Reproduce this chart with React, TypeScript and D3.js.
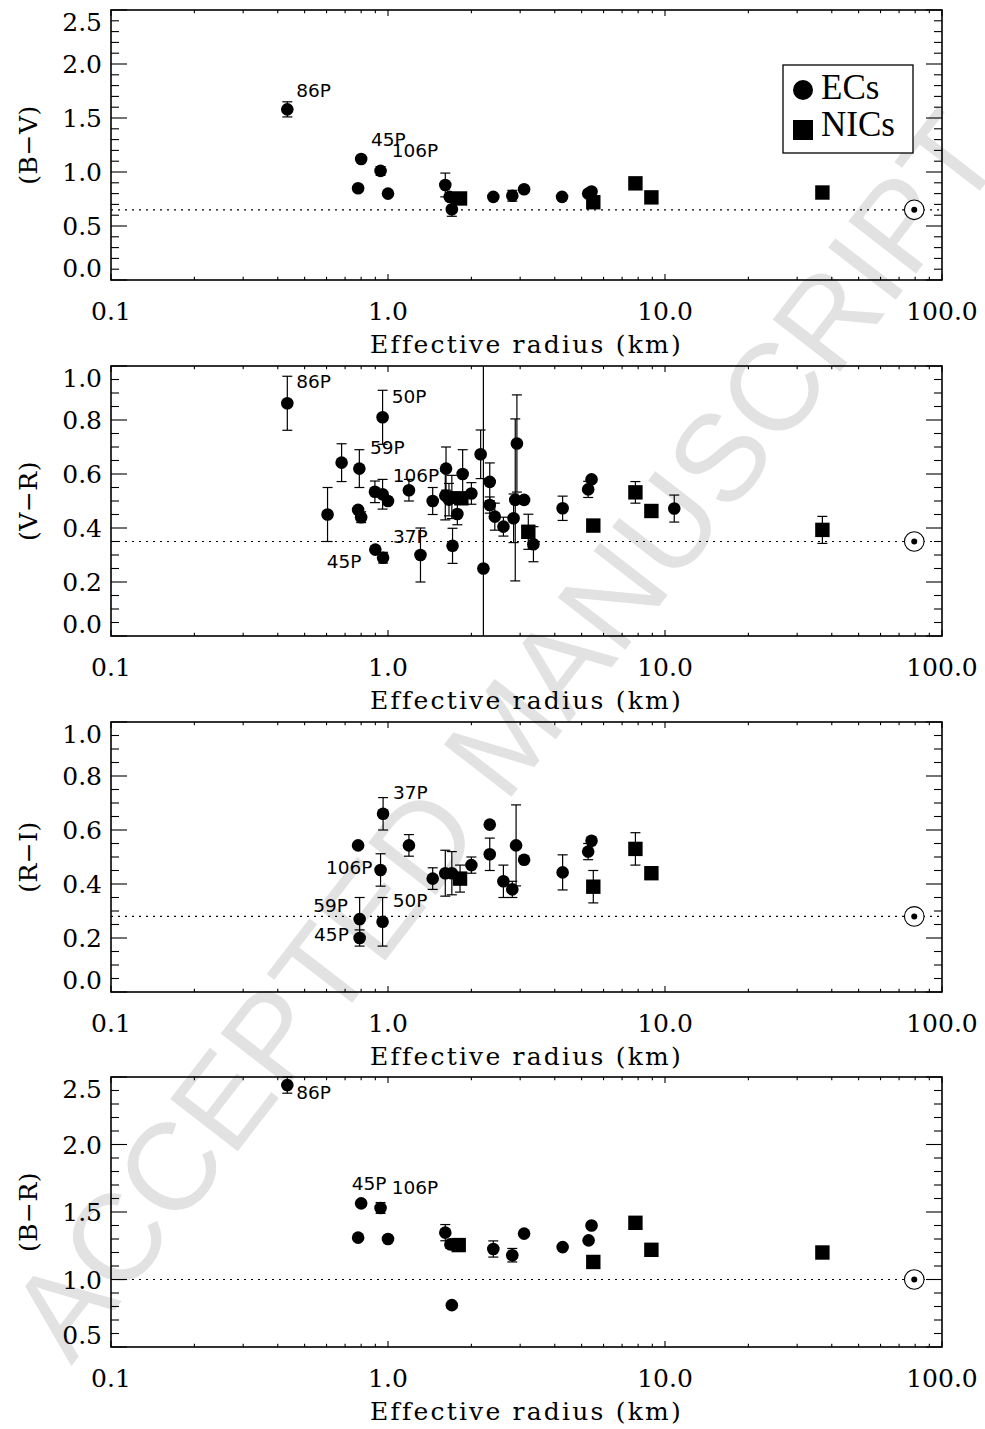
import React from 'react';
import * as d3 from 'd3';

type Pt = [number, number, number]; // [effective radius km, colour, error]
type Lbl = [string, number, number]; // [text, radius at text start, colour at baseline]

const xTickValues = [0.1, 1, 10, 100];
const xTickLabels = ['0.1', '1.0', '10.0', '100.0'];
const sunRadius = 79.4;

// ---- (B-V) ----
const bvTickLabels = ['0.0', '0.5', '1.0', '1.5', '2.0', '2.5'];
const bvECs: Pt[] = [
  [0.433, 1.58, 0.07], [0.80, 1.12, 0], [0.78, 0.85, 0], [0.94, 1.01, 0.04], [1.0, 0.80, 0],
  [1.61, 0.88, 0.11], [1.67, 0.77, 0], [1.70, 0.655, 0.065], [2.40, 0.77, 0], [2.81, 0.78, 0.05],
  [3.10, 0.84, 0], [4.25, 0.77, 0], [5.28, 0.80, 0], [5.43, 0.82, 0],
];
const bvNICs: Pt[] = [
  [1.82, 0.755, 0], [5.51, 0.72, 0], [7.82, 0.895, 0], [8.93, 0.765, 0], [37.0, 0.81, 0],
];
const bvSun = 0.65;
const bvLabels: Lbl[] = [['86P', 0.466, 1.694], ['45P', 0.868, 1.243], ['106P', 1.031, 1.142]];

// ---- (V-R) ----
const vrTickLabels = ['0.0', '0.2', '0.4', '0.6', '0.8', '1.0'];
const vrECs: Pt[] = [
  [0.433, 0.862, 0.10], [0.956, 0.81, 0.10], [0.605, 0.45, 0.10], [0.68, 0.642, 0.07],
  [0.788, 0.62, 0.07], [0.78, 0.467, 0], [0.80, 0.44, 0.02], [0.897, 0.534, 0.04],
  [0.956, 0.525, 0.055], [1.0, 0.50, 0], [0.90, 0.32, 0], [0.96, 0.29, 0.02],
  [1.19, 0.54, 0.04], [1.31, 0.30, 0.10], [1.45, 0.50, 0.05], [1.62, 0.62, 0.08],
  [1.61, 0.52, 0.09], [1.66, 0.505, 0.06], [1.70, 0.515, 0.08], [1.78, 0.452, 0.04],
  [1.71, 0.334, 0.065], [1.86, 0.60, 0.09], [2.0, 0.528, 0.04], [2.16, 0.673, 0.09],
  [2.21, 0.25, 1.0], [2.33, 0.571, 0.07], [2.33, 0.485, 0.03], [2.43, 0.442, 0.05],
  [2.61, 0.405, 0.035], [2.84, 0.436, 0.09], [2.92, 0.713, 0.18], [2.88, 0.504, 0.30],
  [3.10, 0.504, 0], [3.35, 0.34, 0.065], [4.27, 0.473, 0.045], [5.28, 0.543, 0.03],
  [5.43, 0.58, 0], [10.8, 0.472, 0.05],
];
const vrNICs: Pt[] = [
  [1.84, 0.51, 0], [3.21, 0.386, 0.065], [5.51, 0.409, 0.02], [7.82, 0.532, 0.04],
  [8.93, 0.463, 0], [37.0, 0.393, 0.05],
];
const vrSun = 0.35;
const vrLabels: Lbl[] = [
  ['86P', 0.466, 0.917], ['50P', 1.031, 0.862], ['59P', 0.861, 0.673],
  ['106P', 1.04, 0.571], ['37P', 1.043, 0.343], ['45P', 0.601, 0.251],
];

// ---- (R-I) ----
const riTickLabels = ['0.0', '0.2', '0.4', '0.6', '0.8', '1.0'];
const riECs: Pt[] = [
  [0.78, 0.543, 0], [0.96, 0.66, 0.06], [1.19, 0.543, 0.04], [0.94, 0.452, 0.06],
  [0.79, 0.27, 0.08], [0.79, 0.20, 0.03], [0.956, 0.26, 0.09], [1.45, 0.42, 0.04],
  [1.61, 0.44, 0.085], [1.70, 0.44, 0.08], [2.0, 0.47, 0.03], [2.33, 0.62, 0],
  [2.33, 0.51, 0.06], [2.61, 0.41, 0.06], [2.81, 0.38, 0.03], [2.90, 0.543, 0.15],
  [3.10, 0.49, 0], [4.27, 0.443, 0.065], [5.28, 0.52, 0.03], [5.43, 0.56, 0],
];
const riNICs: Pt[] = [
  [1.82, 0.42, 0.05], [5.51, 0.39, 0.06], [7.82, 0.53, 0.06], [8.93, 0.44, 0.02],
];
const riSun = 0.28;
const riLabels: Lbl[] = [
  ['37P', 1.043, 0.713], ['106P', 0.597, 0.438], ['59P', 0.537, 0.295],
  ['50P', 1.04, 0.313], ['45P', 0.541, 0.19],
];

// ---- (B-R) ----
const brTickLabels = ['0.5', '1.0', '1.5', '2.0', '2.5'];
const brECs: Pt[] = [
  [0.433, 2.44, 0.06], [0.80, 1.564, 0], [0.78, 1.31, 0], [0.94, 1.53, 0.04], [1.0, 1.30, 0],
  [1.61, 1.347, 0.06], [1.68, 1.26, 0.03], [1.70, 0.81, 0], [2.40, 1.226, 0.06],
  [2.81, 1.18, 0.05], [3.10, 1.34, 0], [4.27, 1.24, 0], [5.30, 1.29, 0], [5.43, 1.40, 0],
];
const brNICs: Pt[] = [
  [1.80, 1.255, 0], [5.51, 1.13, 0], [7.82, 1.42, 0], [8.93, 1.22, 0], [37.0, 1.20, 0],
];
const brSun = 1.0;
const brLabels: Lbl[] = [['86P', 0.466, 2.335], ['45P', 0.74, 1.663], ['106P', 1.031, 1.631]];

const legendItems = ['ECs', 'NICs'];
const xTitle = 'Effective radius (km)';
const watermark = 'ACCEPTED MANUSCRIPT';

const panels = [
  { title: '(B−V)', tickLabels: bvTickLabels, minor: 0.1, ecs: bvECs, nics: bvNICs, sun: bvSun, labels: bvLabels, legend: true },
  { title: '(V−R)', tickLabels: vrTickLabels, minor: 0.05, ecs: vrECs, nics: vrNICs, sun: vrSun, labels: vrLabels, legend: false },
  { title: '(R−I)', tickLabels: riTickLabels, minor: 0.05, ecs: riECs, nics: riNICs, sun: riSun, labels: riLabels, legend: false },
  { title: '(B−R)', tickLabels: brTickLabels, minor: 0.1, ecs: brECs, nics: brNICs, sun: brSun, labels: brLabels, legend: false },
];

const W = 985;
const H = 1429;
const L = 111;
const R = 942;
const tops = [10, 366, 722, 1077];
const PH = 270;
const serif = '"DejaVu Serif", serif';
const sans = '"DejaVu Sans", sans-serif';

const x = d3.scaleLog().domain([0.1, 100]).range([L, R]);

function Panel({ p, top }: { p: typeof panels[number]; top: number }) {
  const bottom = top + PH;
  const tickVals = p.tickLabels.map(Number);
  const lo = tickVals[0];
  const hi = tickVals[tickVals.length - 1];
  const y = d3.scaleLinear().domain([lo, hi]).range([bottom, top]);
  const nMinor = Math.round((hi - lo) / p.minor);
  const minorVals = d3.range(nMinor + 1).map((i) => lo + i * p.minor);
  const xMinor: number[] = [];
  [0.1, 1, 10].forEach((d) => { for (let k = 2; k <= 9; k++) xMinor.push(d * k); });
  const clampY = (v: number) => Math.max(lo, Math.min(hi, v));
  const errBar = (pt: Pt, i: number) => {
    if (!pt[2]) return null;
    const cx = x(pt[0]);
    const v1 = pt[1] + pt[2];
    const v0 = pt[1] - pt[2];
    const y1 = y(clampY(v1));
    const y0 = y(clampY(v0));
    return (
      <g key={'e' + i} stroke="#000" strokeWidth={1.2}>
        <line x1={cx} x2={cx} y1={y1} y2={y0} />
        {v1 <= hi && <line x1={cx - 5} x2={cx + 5} y1={y1} y2={y1} />}
        {v0 >= lo && <line x1={cx - 5} x2={cx + 5} y1={y0} y2={y0} />}
      </g>
    );
  };
  const sx = x(sunRadius);
  const sy = y(p.sun);
  return (
    <g>
      {/* dotted solar colour line */}
      <line x1={L} x2={R} y1={sy} y2={sy} stroke="#000" strokeWidth={1.2} strokeDasharray="2,5" />
      {/* error bars */}
      {p.ecs.map(errBar)}
      {p.nics.map((d, i) => errBar(d, 100 + i))}
      {/* markers */}
      {p.ecs.map((d, i) => (
        <circle key={'c' + i} cx={x(d[0])} cy={y(d[1])} r={6.3} fill="#000" />
      ))}
      {p.nics.map((d, i) => (
        <rect key={'s' + i} x={x(d[0]) - 7.2} y={y(d[1]) - 7.2} width={14.4} height={14.4} fill="#000" />
      ))}
      {/* sun */}
      <circle cx={sx} cy={sy} r={9.8} fill="#fff" stroke="#000" strokeWidth={1.1} />
      <circle cx={sx} cy={sy} r={3} fill="#000" />
      {/* comet labels */}
      {p.labels.map((l, i) => (
        <text key={'l' + i} x={x(l[1])} y={y(l[2])} fontFamily={sans} fontSize={18.5} fill="#000">{l[0]}</text>
      ))}
      {/* frame */}
      <rect x={L} y={top} width={R - L} height={PH} fill="none" stroke="#000" strokeWidth={1.6} />
      {/* y ticks */}
      {minorVals.map((v, i) => {
        const isMajor = tickVals.some((t) => Math.abs(t - v) < 1e-6);
        const len = isMajor ? 16 : 8;
        const yy = y(v);
        return (
          <g key={'yt' + i} stroke="#000" strokeWidth={1.1}>
            <line x1={L} x2={L + len} y1={yy} y2={yy} />
            <line x1={R} x2={R - len} y1={yy} y2={yy} />
          </g>
        );
      })}
      {/* x ticks */}
      {xTickValues.map((v, i) => (
        <g key={'xt' + i} stroke="#000" strokeWidth={1.1}>
          <line x1={x(v)} x2={x(v)} y1={bottom} y2={bottom - 6} />
          <line x1={x(v)} x2={x(v)} y1={top} y2={top + 6} />
        </g>
      ))}
      {xMinor.map((v, i) => (
        <g key={'xm' + i} stroke="#000" strokeWidth={1.1}>
          <line x1={x(v)} x2={x(v)} y1={bottom} y2={bottom - 3.2} />
          <line x1={x(v)} x2={x(v)} y1={top} y2={top + 3.2} />
        </g>
      ))}
      {/* y tick labels */}
      {p.tickLabels.map((t, i) => {
        const yy = Math.max(top + 12, Math.min(bottom - 12, y(tickVals[i])));
        return (
          <text key={'yl' + i} x={102} y={yy} dy="0.36em" textAnchor="end" fontFamily={serif} fontSize={25} fill="#000">{t}</text>
        );
      })}
      {/* x tick labels */}
      {xTickLabels.map((t, i) => (
        <text key={'xl' + i} x={x(xTickValues[i])} y={bottom + 40} textAnchor="middle" fontFamily={serif} fontSize={25} fill="#000">{t}</text>
      ))}
      {/* titles */}
      <text x={(L + R) / 2} y={bottom + 73} textAnchor="middle" fontFamily={serif} fontSize={25} letterSpacing={2.2} fill="#000">{xTitle}</text>
      <text transform={`translate(37,${top + PH / 2}) rotate(-90)`} textAnchor="middle" fontFamily={serif} fontSize={25} letterSpacing={0.5} fill="#000">{p.title}</text>
      {p.legend && (
        <g>
          <rect x={783} y={top + 55} width={130} height={88} fill="#fff" stroke="#000" strokeWidth={1.3} />
          <circle cx={803} cy={top + 80} r={10} fill="#000" />
          <rect x={793} y={top + 110} width={20} height={20} fill="#000" />
          <text x={821} y={top + 89} fontFamily='"Liberation Serif", serif' fontSize={35} fill="#000">{legendItems[0]}</text>
          <text x={821} y={top + 126} fontFamily='"Liberation Serif", serif' fontSize={35} fill="#000">{legendItems[1]}</text>
        </g>
      )}
    </g>
  );
}

export default function App() {
  return (
    <svg width={W} height={H} viewBox={`0 0 ${W} ${H}`} style={{ position: 'absolute', left: 0, top: 0, background: '#fff' }}>
      <rect x={0} y={0} width={W} height={H} fill="#fff" />
      <text
        transform="translate(505,735) rotate(-52.3)"
        textAnchor="middle"
        dominantBaseline="central"
        fontFamily='"Liberation Sans", sans-serif'
        fontSize={124}
        fill="#e2e2e2"
      >
        {watermark}
      </text>
      {panels.map((p, i) => (
        <Panel key={i} p={p} top={tops[i]} />
      ))}
    </svg>
  );
}
